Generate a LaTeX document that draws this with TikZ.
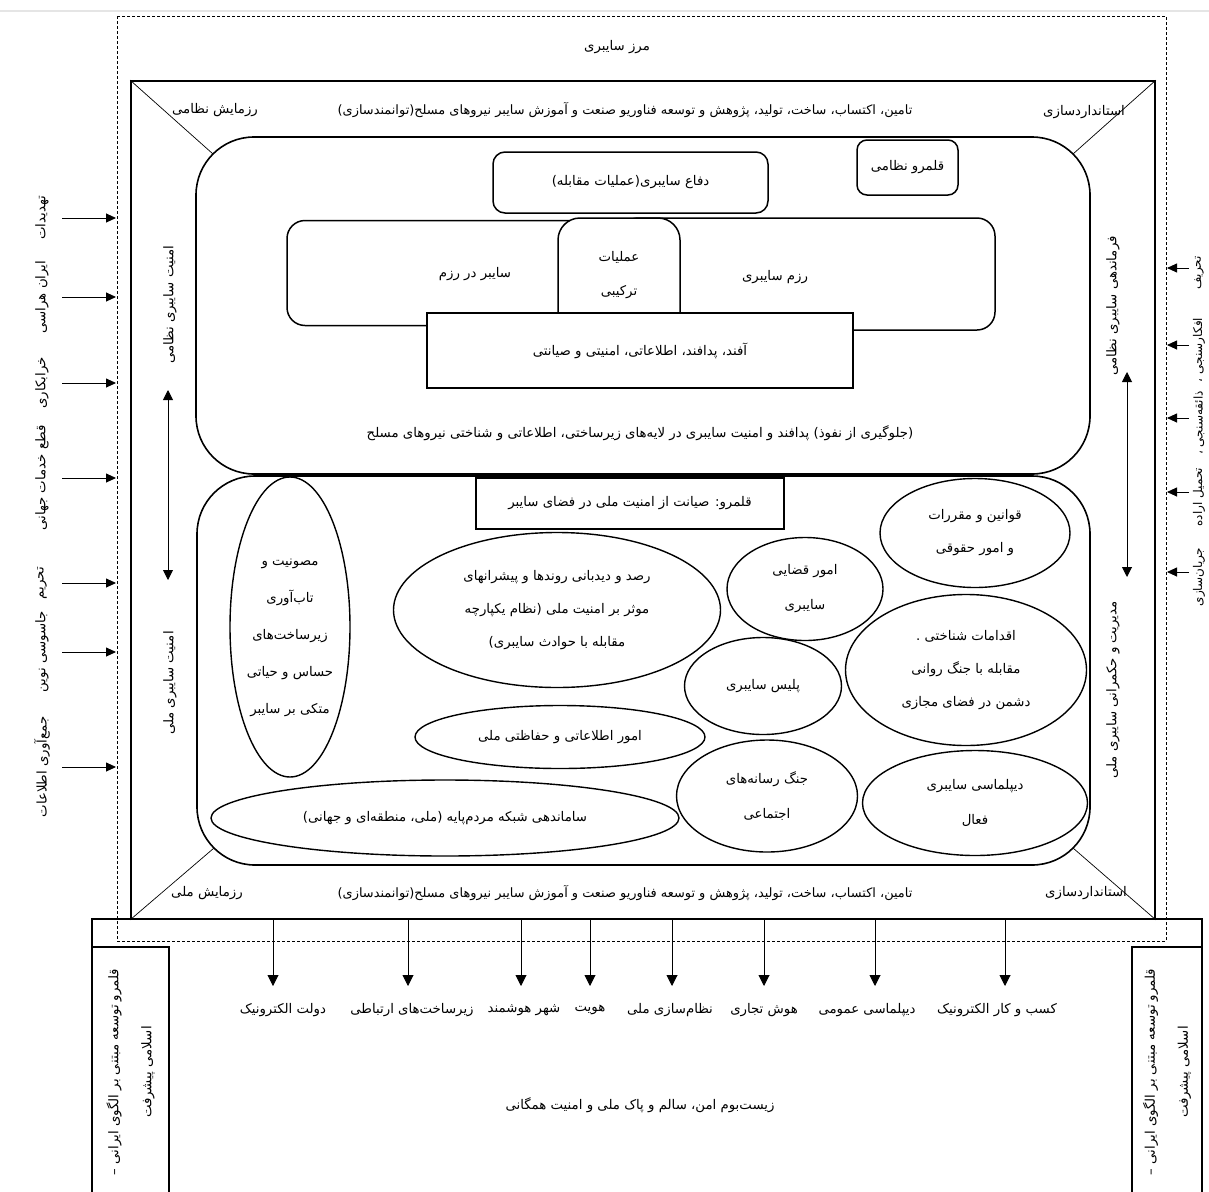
\documentclass[tikz,border=0pt]{standalone}
\usepackage{fontspec}
\usetikzlibrary{shapes.geometric,arrows.meta}
\newfontfamily\fafont[Script=Arabic]{DejaVu Sans}
\TeXXeTstate=1
\newcommand\rl[1]{\beginR #1\endR}
\begin{document}
\begin{tikzpicture}[x=1pt,y=-1pt,
  fa/.style={font=\fafont\fontsize{13.3}{16}\selectfont, inner sep=0pt},
  fas/.style={font=\fafont\fontsize{12}{15}\selectfont, inner sep=0pt},
  fal/.style={font=\fafont\fontsize{13.3}{34}\selectfont, inner sep=0pt, align=center},
  faw/.style={font=\fafont\fontsize{12.9}{16}\selectfont, inner sep=0pt},
  bigbox/.style={draw, line width=1.6pt, inner sep=0pt},
  roundbig/.style={draw, line width=1.6pt, rounded corners=58pt, inner sep=0pt},
  rbox/.style={draw, line width=1.5pt, fill=white, inner sep=0pt},
  sqbox/.style={draw, line width=2pt, fill=white, inner sep=0pt},
  ell/.style={draw, ellipse, line width=1.4pt, inner sep=0pt, align=center, font=\fafont\fontsize{13.3}{35}\selectfont},
  diag/.style={line width=0.7pt},
  dashbox/.style={line width=0.7pt, dash pattern=on 3pt off 2pt},
  arr/.style={line width=0.9pt, -{Triangle[length=11pt,width=11pt]}},
  sarr/.style={line width=0.9pt, -{Triangle[length=10pt,width=9pt]}},
  darr/.style={line width=0.9pt, {Triangle[length=10pt,width=10pt]}-{Triangle[length=10pt,width=10pt]}},
  thinbox/.style={draw, line width=1.2pt, inner sep=0pt}
]
\useasboundingbox (0,0) rectangle (1209,1191);
% page edge line
\draw[black!10, line width=2pt] (0,11) -- (1209,11);

% bottom region boxes
\node[thinbox, minimum width=1110pt, minimum height=280pt] (bottom) at (647,1059) {};
\node[thinbox, minimum width=77pt, minimum height=250pt] (bl) at (130.5,1072) {};
\node[thinbox, minimum width=70pt, minimum height=250pt] (br) at (1167,1072) {};

% dashed cyber border
\coordinate (dnw) at (117,16);
\coordinate (dse) at (1166,941);
\draw[dashbox] (dnw) rectangle (dse);
\node[fa] (marz) at (617,47) {\rl{مرز سایبری}};

% outer solid box
\node[bigbox, minimum width=1024pt, minimum height=838pt] (outer) at (643,500) {};

% big rounded regions
\node[roundbig, minimum width=894pt, minimum height=337pt] (upper) at (643,305.5) {};
\node[roundbig, minimum width=893pt, minimum height=389pt] (lower) at (643.5,670.5) {};

% corner diagonals
\coordinate (c1) at (213,154);
\coordinate (c2) at (1073,154);
\coordinate (c3) at (214,848);
\coordinate (c4) at (1073,848);
\draw[diag] (outer.north west) -- (c1);
\draw[diag] (outer.north east) -- (c2);
\draw[diag] (outer.south west) -- (c3);
\draw[diag] (outer.south east) -- (c4);

% frame labels
\node[faw] (tTop) at (625,110) {\rl{تامین، اکتساب، ساخت، تولید، پژوهش و توسعه فناوریو صنعت و آموزش سایبر نیروهای مسلح(توانمندسازی)}};
\node[faw] (tBot) at (625,893) {\rl{تامین، اکتساب، ساخت، تولید، پژوهش و توسعه فناوریو صنعت و آموزش سایبر نیروهای مسلح(توانمندسازی)}};
\node[fa] (rzN) at (215,110) {\rl{رزمایش نظامی}};
\node[fa] (stT) at (1084,112) {\rl{استانداردسازی}};
\node[fa] (rzM) at (207,893) {\rl{رزمایش ملی}};
\node[fa] (stB) at (1086,893) {\rl{استانداردسازی}};

% upper region contents
\node[rbox, rounded corners=10pt, minimum width=101pt, minimum height=55pt] (qn) at (907.5,167.5) {};
\node[fa] (qnT) at (qn.center) {\rl{قلمرو نظامی}};
\node[rbox, rounded corners=12pt, minimum width=275pt, minimum height=61pt] (dfa) at (630.5,182.5) {};
\node[fa] (dfaT) at (dfa.center) {\rl{دفاع سایبری(عملیات مقابله)}};
\node[rbox, rounded corners=18pt, minimum width=333pt, minimum height=105pt] (saybr) at (453.5,273) {};
\node[fa] (saybrT) at (475,274) {\rl{سایبر در رزم}};
\node[rbox, rounded corners=18pt, minimum width=375pt, minimum height=112pt] (razm) at (807.5,274) {};
\node[fa] (razmT) at (775,277) {\rl{رزم سایبری}};
\node[rbox, rounded corners=22pt, minimum width=122pt, minimum height=130pt] (amal) at (619,283) {};
\node[fal] (amalT) at (619,275) {\rl{عملیات}\\\rl{ترکیبی}};
\node[sqbox, minimum width=426pt, minimum height=75pt] (afand) at (640,350.5) {};
\node[fa] (afandT) at (afand.center) {\rl{آفند، پدافند، اطلاعاتی، امنیتی و صیانتی}};
\node[fa] (jelo) at (640,433) {\rl{(جلوگیری از نفوذ) پدافند و امنیت سایبری در لایه^^^^200cهای زیرساختی، اطلاعاتی و شناختی نیروهای مسلح}};

% lower region contents
\node[sqbox, minimum width=308pt, minimum height=51pt] (qm) at (630,503) {\fontsize{13.3}{16}\fafont\rl{قلمرو: صیانت از امنیت ملی در فضای سایبر}};
\node[ell, minimum width=120pt, minimum height=300pt] (e1) at (290,627) {};
\node[fal, font=\fafont\fontsize{13.3}{37}\selectfont] (e1T) at (290,638) {\rl{مصونیت و}\\\rl{تاب^^^^200cآوری}\\\rl{زیرساخت^^^^200cهای}\\\rl{حساس و حیاتی}\\\rl{متکی بر سایبر}};
\node[ell, minimum width=327pt, minimum height=155pt, font=\fafont\fontsize{13.3}{33}\selectfont] (e2) at (557,610) {\rl{رصد و دیدبانی روندها و پیشرانهای}\\\rl{موثر بر امنیت ملی (نظام یکپارچه}\\\rl{مقابله با حوادث سایبری)}};
\node[ell, minimum width=290pt, minimum height=63pt] (e3) at (560,737) {\rl{امور اطلاعاتی و حفاظتی ملی}};
\node[ell, minimum width=468pt, minimum height=76pt] (e4) at (445,818) {\rl{ساماندهی شبکه مردم^^^^200cپایه (ملی، منطقه^^^^200cای و جهانی)}};
\node[ell, minimum width=156pt, minimum height=103pt] (e5) at (805,589) {\rl{امور قضایی}\\\rl{سایبری}};
\node[ell, minimum width=157pt, minimum height=97pt] (e6) at (763,686) {\rl{پلیس سایبری}};
\node[ell, minimum width=181pt, minimum height=112pt] (e7) at (767,796) {\rl{جنگ رسانه^^^^200cهای}\\\rl{اجتماعی}};
\node[ell, minimum width=190pt, minimum height=109pt, font=\fafont\fontsize{13.3}{33}\selectfont] (e8) at (975,533) {\rl{قوانین و مقررات}\\\rl{و امور حقوقی}};
\node[ell, minimum width=241pt, minimum height=151pt, font=\fafont\fontsize{13.3}{33}\selectfont] (e9) at (966,670) {\rl{اقدامات شناختی .}\\\rl{مقابله با جنگ روانی}\\\rl{دشمن در فضای مجازی}};
\node[ell, minimum width=225pt, minimum height=105pt] (e10) at (975,803) {\rl{دیپلماسی سایبری}\\\rl{فعال}};

% inner side labels and double arrows
\node[fa, rotate=90] (lsN) at (170,305) {\rl{امنیت سایبری نظامی}};
\node[fa, rotate=90] (lsM) at (170,683) {\rl{امنیت سایبری ملی}};
\coordinate (la1) at (168,390);
\coordinate (la2) at (168,580);
\draw[darr] (la1) -- (la2);
\node[fa, rotate=90] (rsN) at (1113,306) {\rl{فرماندهی سایبری نظامی}};
\node[fa, rotate=90] (rsM) at (1113,690) {\rl{مدیریت و حکمرانی سایبری ملی}};
\coordinate (ra1) at (1127,372);
\coordinate (ra2) at (1127,577);
\draw[darr] (ra1) -- (ra2);

% left threats
\foreach \y/\t/\n in {218/{تهدیدات}/1, 297/{ایران هراسی}/2, 383/{خرابکاری}/3, 478/{قطع خدمات جهانی}/4, 583/{تحریم}/5, 652/{جاسوسی نوین}/6, 767/{جمع^^^^200cآوری اطلاعات}/7}{
  \node[fa, rotate=90] (lt\n) at (42,\y) {\rl{\t}};
  \coordinate (ls\n) at (62,\y);
  \coordinate (le\n) at (116,\y);
  \draw[sarr] (ls\n) -- (le\n);
}

% right influences
\foreach \y/\t/\n in {268/{تحریف}/1, 345/{افکارسنجی ،}/2, 418/{ذائقه^^^^200cسنجی ،}/3, 492/{تحمیل اراده}/4, 572/{جریان^^^^200cسازی}/5}{
  \node[fas, rotate=90] (rt\n) at (1199,\y+5) {\rl{\t}};
  \coordinate (rs\n) at (1189,\y);
  \coordinate (re\n) at (1167,\y);
  \draw[sarr] (rs\n) -- (re\n);
}

% bottom outcomes
\foreach \x/\lx/\t/\n in {273/283/{دولت الکترونیک}/1, 408/412/{زیرساخت^^^^200cهای ارتباطی}/2, 521/524/{شهر هوشمند}/3, 590/590/{هویت}/4, 672/670/{نظام^^^^200cسازی ملی}/5, 764/764/{هوش تجاری}/6, 875/867/{دیپلماسی عمومی}/7, 1005/997/{کسب و کار الکترونیک}/8}{
  \coordinate (bs\n) at (\x,920);
  \coordinate (be\n) at (\x,986);
  \draw[arr] (bs\n) -- (be\n);
  \node[fa] (bt\n) at (\lx,1010) {\rl{\t}};
}
\node[fa] (zist) at (640,1105) {\rl{زیست^^^^200cبوم امن، سالم و پاک ملی و امنیت همگانی}};
\node[fal, rotate=90, font=\fafont\fontsize{13.3}{33}\selectfont] (blT) at (bl.center) {\rl{قلمرو توسعه مبتنی بر الگوی ایرانی –}\\\rl{اسلامی پیشرفت}};
\node[fal, rotate=90, font=\fafont\fontsize{13.3}{33}\selectfont] (brT) at (br.center) {\rl{قلمرو توسعه مبتنی بر الگوی ایرانی –}\\\rl{اسلامی پیشرفت}};
\end{tikzpicture}
\end{document}
